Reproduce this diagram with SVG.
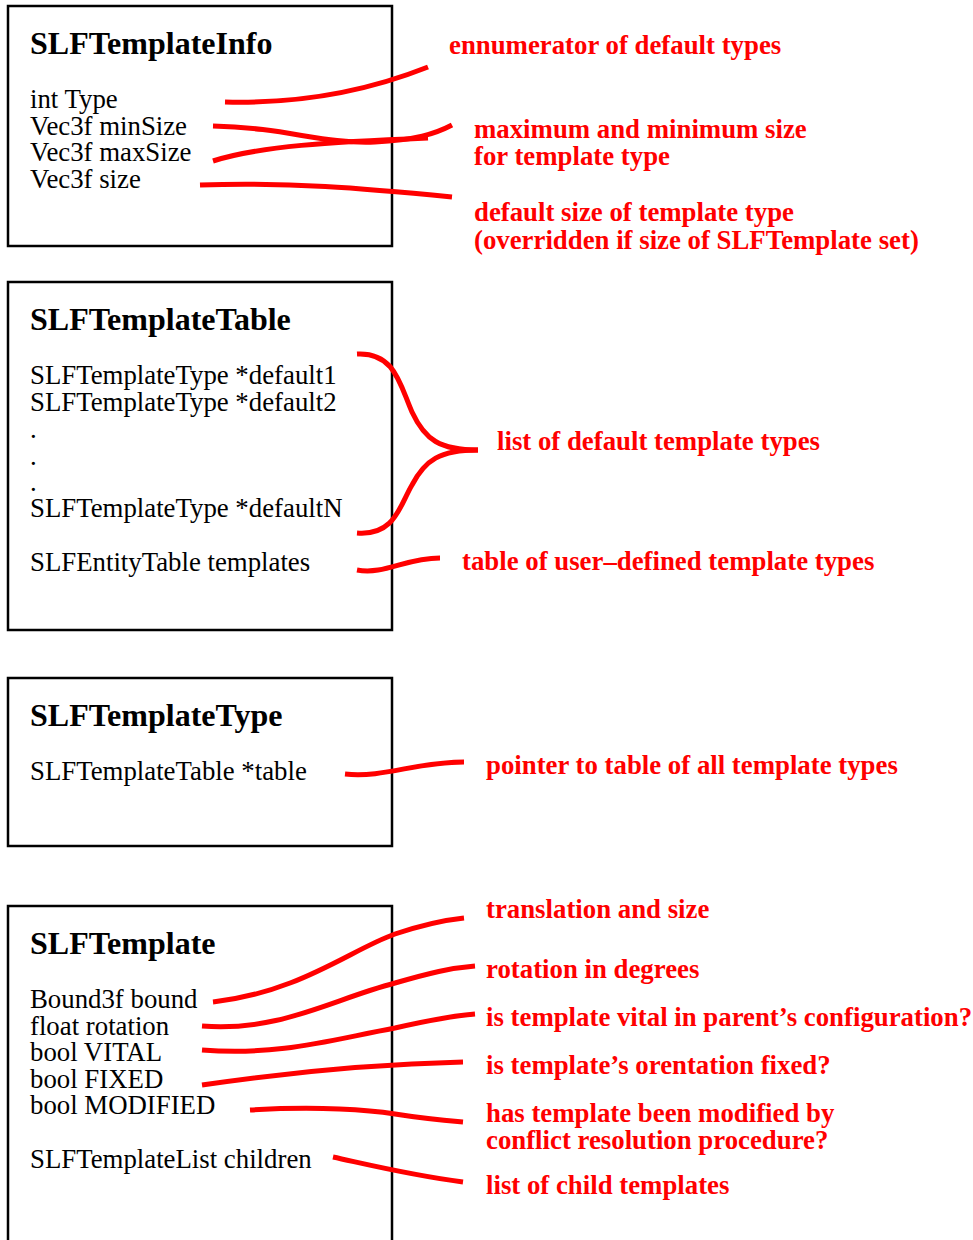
<svg xmlns="http://www.w3.org/2000/svg" width="973" height="1240" viewBox="0 0 973 1240">
<style>
.box{fill:#fff;stroke:#000;stroke-width:2.5}
.title{font-family:"Liberation Serif",serif;font-weight:bold;font-size:32px;fill:#000}
.body{font-family:"Liberation Serif",serif;font-size:26.8px;fill:#000}
.note{font-family:"Liberation Serif",serif;font-weight:bold;font-size:26.8px;fill:#f00}
.con{fill:none;stroke:#f00;stroke-width:5;stroke-linecap:butt}
</style>
<rect width="973" height="1240" fill="#fff"/>
<g id="SLFTemplateInfo">
<rect class="box" x="8" y="6" width="384" height="240"/>
<text class="title" x="30" y="54">SLFTemplateInfo</text>
<text class="body" x="30" y="108">int Type</text>
<text class="body" x="30" y="135">Vec3f minSize</text>
<text class="body" x="30" y="161">Vec3f maxSize</text>
<text class="body" x="30" y="188">Vec3f size</text>
</g>
<g id="SLFTemplateTable">
<rect class="box" x="8" y="282" width="384" height="348"/>
<text class="title" x="30" y="330">SLFTemplateTable</text>
<text class="body" x="30" y="384">SLFTemplateType *default1</text>
<text class="body" x="30" y="411">SLFTemplateType *default2</text>
<text class="body" x="30" y="438">.</text>
<text class="body" x="30" y="465">.</text>
<text class="body" x="30" y="491">.</text>
<text class="body" x="30" y="517">SLFTemplateType *defaultN</text>
<text class="body" x="30" y="571">SLFEntityTable templates</text>
</g>
<g id="SLFTemplateType">
<rect class="box" x="8" y="678" width="384" height="168"/>
<text class="title" x="30" y="726">SLFTemplateType</text>
<text class="body" x="30" y="780">SLFTemplateTable *table</text>
</g>
<g id="SLFTemplate">
<rect class="box" x="8" y="906" width="384" height="400"/>
<text class="title" x="30" y="954">SLFTemplate</text>
<text class="body" x="30" y="1008">Bound3f bound</text>
<text class="body" x="30" y="1035">float rotation</text>
<text class="body" x="30" y="1061">bool VITAL</text>
<text class="body" x="30" y="1088">bool FIXED</text>
<text class="body" x="30" y="1114">bool MODIFIED</text>
<text class="body" x="30" y="1168">SLFTemplateList children</text>
</g>
<g id="notes">
<text class="note" x="449" y="54">ennumerator of default types</text>
<text class="note" x="474" y="138">maximum and minimum size</text>
<text class="note" x="474" y="165">for template type</text>
<text class="note" x="474" y="221">default size of template type</text>
<text class="note" x="474" y="249">(overridden if size of SLFTemplate set)</text>
<text class="note" x="497" y="450">list of default template types</text>
<text class="note" x="462" y="570">table of user–defined template types</text>
<text class="note" x="486" y="774">pointer to table of all template types</text>
<text class="note" x="486" y="918">translation and size</text>
<text class="note" x="486" y="978">rotation in degrees</text>
<text class="note" x="486" y="1026">is template vital in parent’s configuration?</text>
<text class="note" x="486" y="1074">is template’s orentation fixed?</text>
<text class="note" x="486" y="1122">has template been modified by</text>
<text class="note" x="486" y="1149">conflict resolution procedure?</text>
<text class="note" x="486" y="1194">list of child templates</text>
</g>
<g id="connectors">
<path class="con" d="M225,102 C300,104 370,90 428,67"/>
<path class="con" d="M213,126 C290,128 320,144 375,142 C415,140 435,134 452,125"/>
<path class="con" d="M213,161 C260,146 330,142 428,138"/>
<path class="con" d="M200,185 C290,182 360,188 452,197"/>
<path class="con" d="M357,354 C395,352 400,385 412,412 C425,440 440,450 478,450"/>
<path class="con" d="M357,533 C395,536 400,505 412,485 C425,460 440,450 478,450"/>
<path class="con" d="M357,570 C385,575 405,558 440,558"/>
<path class="con" d="M345,774 C385,778 415,762 464,762"/>
<path class="con" d="M213,1002 C300,992 350,950 395,934 C425,924 445,920 464,918"/>
<path class="con" d="M202,1026 C280,1032 330,1000 395,983 C430,973 450,968 475,966"/>
<path class="con" d="M202,1050 C280,1056 330,1040 395,1028 C430,1020 450,1016 475,1014"/>
<path class="con" d="M202,1085 C290,1072 380,1064 463,1062"/>
<path class="con" d="M250,1110 C320,1106 370,1110 395,1114 C420,1118 440,1120 463,1122"/>
<path class="con" d="M333,1157 C370,1165 410,1175 463,1182"/>
</g>
</svg>
